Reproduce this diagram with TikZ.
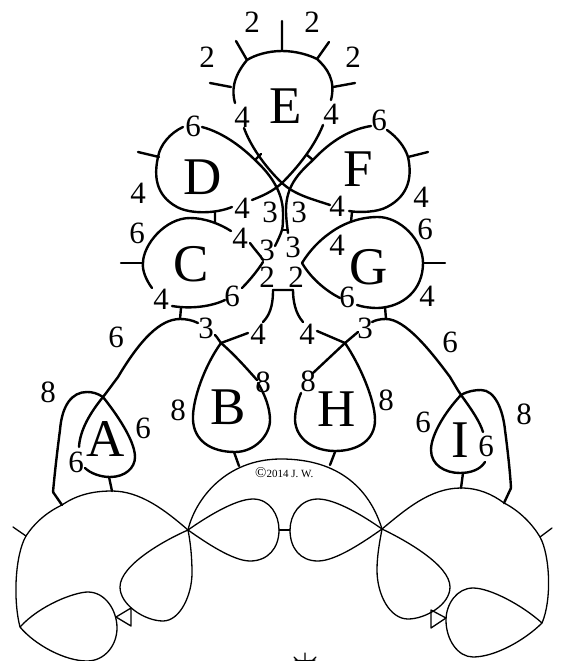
\documentclass[tikz,border=0pt]{standalone}
\usepackage{fontspec}
\setmainfont{Liberation Serif}
\tikzset{
  thk/.style={line width=2.4pt,line cap=round,line join=round},
  thn/.style={line width=1.3pt,line cap=round,line join=round},
  ltr/.style={font=\fontsize{53}{53}\selectfont,inner sep=0pt},
  num/.style={font=\fontsize{31}{31}\selectfont,inner sep=0pt},
}
\begin{document}
\begin{tikzpicture}[x=1pt,y=-1pt]
\useasboundingbox (0,0) rectangle (563,661);
% E
\draw[thk] (282,21)--(282,51) (236,41)--(247,60) (329,42)--(317,59) (210,83)--(231,87) (355,83)--(333,87);
\draw[thk] (235,103) .. controls (232,92) and (232,78) .. (247,60) .. controls (255,55) and (268,51) .. (282,51) .. controls (296,51) and (309,55) .. (317,59) .. controls (327,68) and (336,80) .. (331,100);
\draw[thk] (244,128) .. controls (250,145) and (265,167) .. (282,183) .. controls (295,195) and (312,199) .. (330,205);
\draw[thk] (323,125) .. controls (315,145) and (300,165) .. (282,183) .. controls (272,192) and (262,196) .. (252,200);
% D
\draw[thk] (138,152)--(159,157) (255,160)--(261,154) (215,212)--(215,222);
\draw[thk] (183,127) .. controls (170,133) and (160,145) .. (158,157) .. controls (154,175) and (155,195) .. (177,207) .. controls (190,214) and (215,214) .. (232,207);
\draw[thk] (202,127) .. controls (225,133) and (245,150) .. (255,160) .. controls (268,172) and (283,190) .. (283,213) .. controls (283,220) and (283,226) .. (282,230) .. controls (280,236) and (278,240) .. (275,246);
% F
\draw[thk] (428,152)--(408,157) (307,155)--(313,160) (352,212)--(351,222);
\draw[thk] (371,126) .. controls (345,130) and (325,147) .. (313,160) .. controls (300,172) and (286,185) .. (286,210) .. controls (286,218) and (287,225) .. (288,233);
\draw[thk] (387,130) .. controls (397,137) and (405,147) .. (408,157) .. controls (412,175) and (410,195) .. (387,207) .. controls (378,212) and (360,213) .. (349,211);
\draw[thk] (282,230)--(288,230);
% C
\draw[thk] (121,263)--(143,263);
\draw[thk] (152,288) .. controls (146,280) and (142,270) .. (143,263) .. controls (143,245) and (165,218) .. (190,218) .. controls (205,218) and (220,224) .. (231,231);
\draw[thk] (250,243) .. controls (255,250) and (260,255) .. (263,260);
\draw[thk] (263,262) .. controls (258,270) and (250,280) .. (242,288);
\draw[thk] (225,300) .. controls (210,307) and (190,309) .. (172,306);
% G
\draw[thk] (423,263)--(445,263);
\draw[thk] (302,263) .. controls (310,250) and (320,240) .. (330,233) .. controls (345,222) and (362,217) .. (378,217) .. controls (400,217) and (423,240) .. (423,263) .. controls (423,290) and (403,307) .. (378,308) .. controls (370,308) and (363,307) .. (357,305);
\draw[thk] (302,263) .. controls (312,280) and (328,292) .. (340,298);
% lower centre
\draw[thk] (273,290)--(293,290) (181,308)--(180,319) (385,307)--(386,319);
\draw[thk] (273,290) .. controls (273,300) and (272,313) .. (263,322);
\draw[thk] (293,290) .. controls (293,300) and (295,313) .. (303,322);
\draw[thk] (248,333)--(221,343) (317,331)--(345,343);
% A
\draw[thk] (198,323) .. controls (192,320) and (186,319) .. (180,319) .. controls (160,319) and (140,340) .. (118,377) .. controls (112,385) and (107,392) .. (103,397) .. controls (90,413) and (80,430) .. (79,447);
\draw[thk] (103,397) .. controls (115,412) and (135,440) .. (135,457) .. controls (135,468) and (125,477) .. (110,477) .. controls (100,477) and (90,473) .. (85,468);
\draw[thk] (103,397) .. controls (97,393) and (92,392) .. (87,392) .. controls (72,392) and (62,405) .. (60,430) .. controls (58,445) and (55,470) .. (53,492);
\draw[thk] (109,477)--(112,491);
\draw[thk] (53,492)--(62,505);
% B
\draw[thk] (215,335) .. controls (218,338) and (219,341) .. (221,343) .. controls (235,355) and (248,370) .. (257,380);
\draw[thk] (221,343) .. controls (205,365) and (192,400) .. (193,420) .. controls (194,440) and (210,452) .. (235,452) .. controls (255,452) and (270,435) .. (270,420) .. controls (270,408) and (265,395) .. (258,383);
\draw[thk] (234,452)--(239,466);
% H
\draw[thk] (345,343) .. controls (360,365) and (375,400) .. (375,420) .. controls (375,440) and (358,451) .. (335,451) .. controls (315,451) and (296,440) .. (295,420) .. controls (295,410) and (298,400) .. (301,393);
\draw[thk] (313,373)--(345,343)--(358,332) (335,452)--(330,465);
% I
\draw[thk] (372,322) .. controls (376,320) and (380,319) .. (386,319) .. controls (405,319) and (430,350) .. (450,377) .. controls (453,382) and (457,389) .. (461,395) .. controls (472,410) and (480,422) .. (483,432);
\draw[thk] (461,395) .. controls (445,412) and (431,435) .. (431,450) .. controls (431,465) and (445,473) .. (460,473) .. controls (470,473) and (480,470) .. (485,462);
\draw[thk] (461,395) .. controls (468,391) and (475,390) .. (481,390) .. controls (495,390) and (503,410) .. (505,430) .. controls (507,445) and (510,470) .. (511,488);
\draw[thk] (511,488)--(504,503) (463,473)--(461,488);
% thin lower part, left
\draw[thn] (188,530) .. controls (165,510) and (140,491) .. (112,491) .. controls (95,491) and (78,494) .. (62,505) .. controls (45,513) and (33,525) .. (26,536) .. controls (15,555) and (13,600) .. (20,627);
\draw[thn] (20,627) .. controls (40,605) and (75,592) .. (88,592) .. controls (105,592) and (117,610) .. (117,628) .. controls (117,645) and (105,661) .. (87,661) .. controls (65,661) and (35,645) .. (20,627);
\draw[thn] (188,530) .. controls (165,540) and (120,565) .. (120,587) .. controls (120,605) and (145,621) .. (163,621) .. controls (180,621) and (192,595) .. (192,573) .. controls (192,555) and (190,540) .. (188,530);
\draw[thn] (131,608)--(131,626)--(116,617)--cycle;
\draw[thn] (13,527)--(26,536);
% arch and petals
\draw[thn] (188,530) .. controls (195,500) and (225,459) .. (281,459) .. controls (340,459) and (370,490) .. (382,529);
\draw[thn] (188,530) .. controls (205,518) and (235,499) .. (253,499) .. controls (270,499) and (279,515) .. (279,530) .. controls (279,548) and (268,561) .. (250,561) .. controls (233,561) and (205,542) .. (188,530);
\draw[thn] (382,529) .. controls (365,517) and (336,499) .. (318,499) .. controls (300,499) and (290,515) .. (290,530) .. controls (290,548) and (300,561) .. (318,561) .. controls (336,561) and (365,541) .. (382,529);
\draw[thn] (279,530)--(290,530);
% right
\draw[thn] (382,529) .. controls (405,510) and (430,488) .. (461,488) .. controls (478,488) and (492,494) .. (504,503) .. controls (520,511) and (533,525) .. (540,537) .. controls (550,555) and (552,600) .. (542,623);
\draw[thn] (542,623) .. controls (522,605) and (490,588) .. (473,588) .. controls (457,588) and (446,604) .. (446,620) .. controls (446,640) and (458,657) .. (473,657) .. controls (495,657) and (525,640) .. (542,623);
\draw[thn] (382,529) .. controls (405,540) and (450,565) .. (450,587) .. controls (450,605) and (425,619) .. (408,619) .. controls (390,619) and (377,595) .. (377,570) .. controls (377,555) and (380,540) .. (382,529);
\draw[thn] (431,610)--(431,628)--(446,618)--cycle;
\draw[thn] (552,528)--(540,537);
% sun
\draw[thn] (305,653)--(305,661) (294,657)--(297,660) (316,657)--(313,660);
\draw[thn] (295,660) .. controls (300,661) and (310,661) .. (315,660);
% copyright
\node[inner sep=0pt,anchor=west,font=\fontsize{11}{11}\selectfont] (cr) at (255,472.5) {{\fontsize{15}{15}\selectfont\textcopyright}2014 J. W.};
% letters
\node[ltr] (lE) at (286,106) {E};
\node[ltr] (lD) at (203,177) {D};
\node[ltr] (lF) at (358,169) {F};
\node[ltr] (lC) at (191,264) {C};
\node[ltr] (lG) at (369,267) {G};
\node[ltr] (lB) at (228,407) {B};
\node[ltr] (lH) at (337,409) {H};
\node[ltr] (lA) at (106,439) {A};
\node[ltr] (lI) at (460,440) {I};
% numbers
\foreach \n/\x/\y/\t in {a/252/22/2,b/312/22/2,c/207/57/2,d/353/57/2,
  e/242/117/4,f/331/114/4,g/193/126/6,h/379/120/6,i/138/193/4,j/421/197/4,
  k/242/208/4,l/337/206/4,m/137/233/6,n/425/229/6,o/240/238/4,p/337/245/4,
  q/270/212/3,r/299/212/3,s/267/250/3,t/293/247/3,u/267/277/2,v/296/277/2,
  w/161/299/4,x/232/296/6,y/347/297/6,z/427/296/4,
  aa/206/328/3,ab/365/328/3,ac/258/334/4,ad/307/334/4,ae/116/337/6,af/450/342/6,
  ag/48/392/8,ah/178/410/8,ai/263/382/8,aj/143/428/6,ak/76/462/6,
  al/308/381/8,am/386/400/8,an/423/422/6,ao/486/446/6,ap/524/414/8}
{\node[num] (n\n) at (\x,\y) {\t};}
\end{tikzpicture}
\end{document}
